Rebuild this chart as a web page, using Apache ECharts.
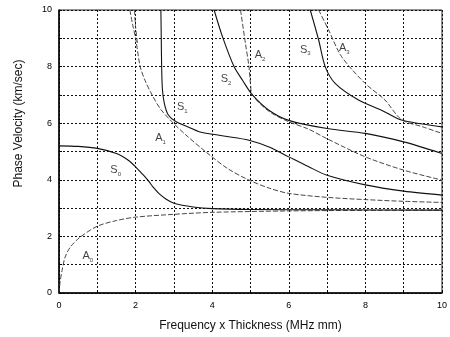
<!DOCTYPE html>
<html>
<head>
<meta charset="utf-8">
<script src="https://cdn.jsdelivr.net/npm/echarts@6/dist/echarts.min.js"></script>
<style>
  html, body { margin: 0; padding: 0; background: #fff; }
  #chart { width: 450px; height: 337px; }
</style>
</head>
<body>
<div id="chart"></div>
<script>
// [frequency x thickness, phase velocity]
const a0 = [[0, 0], [0.03, 0.4], [0.08, 0.8], [0.16, 1.27], [0.3, 1.63], [0.55, 1.97], [1, 2.36], [1.5, 2.56], [2, 2.68], [3, 2.78], [4, 2.85], [6, 2.9], [8, 2.92], [10, 2.93]];
const s0 = [[0, 5.2], [0.5, 5.18], [1, 5.11], [1.5, 4.93], [1.8, 4.7], [2, 4.46], [2.2, 4.17], [2.33, 3.97], [2.47, 3.72], [2.62, 3.5], [2.8, 3.31], [3, 3.17], [3.5, 3.04], [4, 2.98], [5, 2.95], [7, 2.94], [10, 2.93]];
const a1 = [[1.85, 10], [1.92, 9.5], [2.0, 9.0], [2.12, 8], [2.25, 7.5], [2.43, 7], [2.65, 6.5], [2.95, 6.05], [3.3, 5.6], [3.84, 4.98], [4.4, 4.4], [4.96, 3.99], [5.5, 3.7], [6, 3.52], [7, 3.38], [8, 3.3], [9, 3.24], [10, 3.2]];
const a1b = [[1.97, 10], [2.0, 9.4], [2.05, 8.8]];
const s1 = [[2.66, 10], [2.67, 9], [2.68, 8], [2.7, 7.2], [2.75, 6.7], [2.85, 6.3], [3.06, 6.05], [3.4, 5.85], [3.66, 5.7], [4.3, 5.55], [4.96, 5.4], [5.5, 5.15], [6, 4.81], [6.52, 4.46], [7, 4.16], [8, 3.82], [9, 3.6], [10, 3.46]];
const s2 = [[4.05, 10], [4.27, 9.05], [4.57, 8], [4.8, 7.5], [5.05, 7.0], [5.48, 6.46], [6, 6.1], [7, 5.81], [8, 5.64], [9, 5.34], [10, 4.93]];
const a2 = [[4.74, 10], [4.87, 8.8], [4.96, 8], [5.0, 7.4], [5.05, 7.0], [5.48, 6.42], [6, 6.05], [6.5, 5.8], [7, 5.45], [8, 4.81], [9, 4.34], [10, 3.99]];
const s3 = [[6.56, 10], [6.78, 8.94], [6.95, 8], [7.21, 7.41], [7.82, 6.82], [8.42, 6.46], [8.94, 6.11], [9.5, 5.97], [10, 5.87]];
const a3 = [[6.78, 10], [7.04, 9.29], [7.38, 8.35], [7.99, 7.41], [8.51, 6.82], [8.94, 6.13], [9.5, 5.87], [10, 5.64]];

// mode names: [x, y, letter, subscript]
const modeLabels = [
  [1.48, 4.34, "S", "0"],
  [0.75, 1.3, "A", "0"],
  [2.65, 5.47, "A", "1"],
  [3.22, 6.57, "S", "1"],
  [4.36, 7.56, "S", "2"],
  [5.25, 8.4, "A", "2"],
  [6.43, 8.6, "S", "3"],
  [7.45, 8.65, "A", "3"],
];

const font = "Liberation Sans";

function curve(data, dashed) {
  return {
    type: "line",
    data: data,
    showSymbol: false,
    smooth: 0.3,
    clip: true,
    silent: true,
    lineStyle: dashed
      ? { color: "#333", width: 0.9, type: [5, 2] }
      : { color: "#111", width: 1.1 },
  };
}

function axis(name) {
  return {
    type: "value",
    min: 0,
    max: 10,
    interval: 1,
    name: name,
    nameLocation: "middle",
    nameTextStyle: { fontFamily: font, fontSize: 12, color: "#111" },
    axisLine: { lineStyle: { color: "#000", width: 1.5 } },
    axisTick: { inside: true, length: 3, lineStyle: { color: "#000" } },
    axisLabel: {
      fontFamily: font,
      fontSize: 9,
      color: "#000",
      formatter: (v) => (v % 2 === 0 ? v : ""),
    },
    splitLine: { lineStyle: { color: "#111", width: 1, type: [2, 2] } },
  };
}

const chart = echarts.init(document.getElementById("chart"));

const xAxis = axis("Frequency x Thickness (MHz mm)");
xAxis.nameGap = 27;
xAxis.axisLabel.margin = 8;

const yAxis = axis("Phase Velocity (km/sec)");
yAxis.nameGap = 34;
yAxis.nameTextStyle.padding = [0, 0, 0, 56];
yAxis.axisLabel.margin = 7;

chart.setOption({
  animation: false,
  backgroundColor: "#fff",
  grid: {
    left: 59,
    right: 6,
    top: 10,
    bottom: 44,
    show: true,
    borderColor: "#222",
    borderWidth: 1,
  },
  xAxis: xAxis,
  yAxis: yAxis,
  series: [
    curve(a0, true),
    curve(s0, false),
    curve(a1, true),
    curve(a1b, true),
    curve(s1, false),
    curve(s2, false),
    curve(a2, true),
    curve(s3, false),
    curve(a3, true),
    {
      type: "scatter",
      data: modeLabels,
      symbolSize: 0,
      silent: true,
      label: {
        show: true,
        position: "inside",
        formatter: (p) => `{m|${p.data[2]}}{s|${p.data[3]}}`,
        rich: {
          m: { fontFamily: font, fontSize: 11, color: "#111" },
          s: { fontFamily: font, fontSize: 6, color: "#111", padding: [8, 0, 0, 0] },
        },
      },
    },
  ],
});
</script>
</body>
</html>
